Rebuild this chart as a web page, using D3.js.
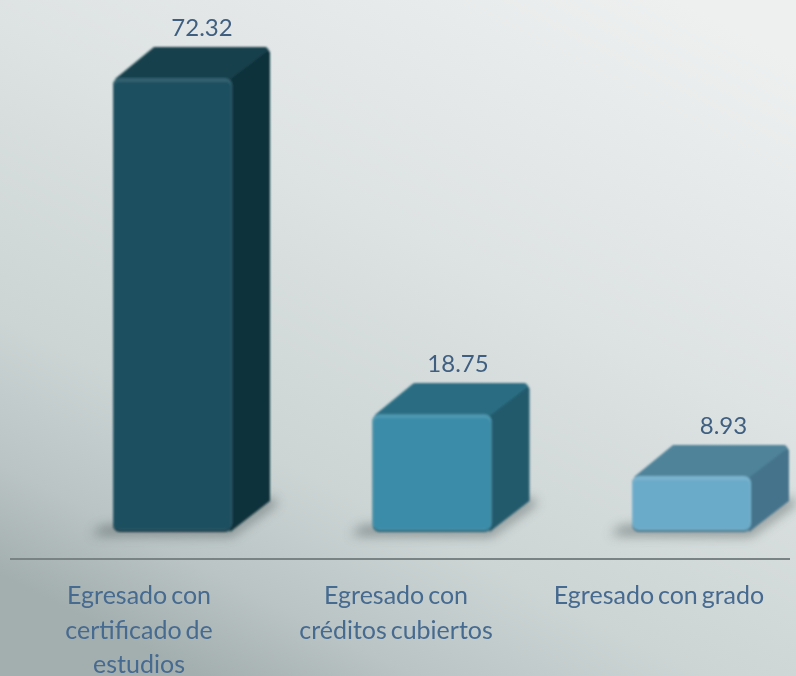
<!DOCTYPE html>
<html><head><meta charset="utf-8">
<script src="https://cdn.jsdelivr.net/npm/d3@7"></script>
<style>html,body{margin:0;padding:0;background:#d5dad9}svg{display:block}</style>
</head><body><div id="c"></div>
<script>
const categories = ["Egresado con certificado de estudios","Egresado con créditos cubiertos","Egresado con grado"];
const categoryLines = [["Egresado con","certificado de","estudios"],["Egresado con","créditos cubiertos"],["Egresado con grado"]];
const values = [72.32,18.75,8.93];
const valueLabels = ["72.32","18.75","8.93"];
const frontColors = ["#1c4f60","#3a8ca8","#6aabc9"];
const topColors = ["#17404c","#2a6d82","#4f8399"];
const sideColors = ["#10323a","#245a6c","#44738b"];
const W=796,H=676;
const svg=d3.select("#c").append("svg").attr("width",W).attr("height",H);
const defs=svg.append("defs");
const bg=defs.append("linearGradient").attr("id","bg").attr("x1","0.85").attr("y1","0").attr("x2","0.25").attr("y2","1");
[[0,"#eef0f0"],[0.4,"#dde2e2"],[0.72,"#ccd4d4"],[0.88,"#bac4c4"],[1,"#a3aeae"]].forEach(s=>bg.append("stop").attr("offset",s[0]).attr("stop-color",s[1]));
defs.append("filter").attr("id","soft").attr("x","-10%").attr("y","-10%").attr("width","120%").attr("height","120%").append("feGaussianBlur").attr("stdDeviation",1);
defs.append("filter").attr("id","txt").attr("x","-5%").attr("y","-5%").attr("width","110%").attr("height","110%").append("feGaussianBlur").attr("stdDeviation",0.55);
defs.append("filter").attr("id","shadow").attr("x","-30%").attr("y","-200%").attr("width","160%").attr("height","500%").append("feGaussianBlur").attr("stdDeviation",6);
svg.append("rect").attr("width",W).attr("height",H).attr("fill","url(#bg)");

const x=d3.scalePoint().domain(categories).range([172.5,691.5]);
const y=d3.scaleLinear().domain([0,72.32]).range([532,78]);
const bw=119,dx=38,dy=31;
const valueOffset=[29.5,26,32];

const g=svg.selectAll("g.bar").data(categories).join("g").attr("class","bar");
g.each(function(c,i){
  const s=d3.select(this),l=x(c)-bw/2,r=l+bw,t=y(values[i]),b=y(0);
  const line=d3.line();
  s.append("path").attr("d",line([[l-22,b+3],[r,b+4],[r+dx+8,b-dy+2],[r+dx,b-dy-4],[r,b-6],[l-10,b-6]])+"Z")
    .attr("fill","#4f5a5a").attr("opacity",.6).attr("filter","url(#shadow)");
  const soft=s.append("g").attr("filter","url(#soft)");
  soft.append("path").attr("d",line([[l+3,t+1],[l+dx+5,t-dy],[r+dx-5,t-dy],[r+dx,t-dy+5],[r+dx,b-dy],[r-2,b],[r-4,t+2]])+"Z").attr("fill",sideColors[i]);
  soft.append("path").attr("d",line([[l+2,t+1],[l+dx+3,t-dy],[r+dx-4,t-dy],[r+dx-1,t-dy+3],[r-1,t+1]])+"Z").attr("fill",topColors[i]);
  const hi=d3.interpolateRgb(frontColors[i],"#ffffff");
  const lo=d3.interpolateRgb(frontColors[i],"#000000");
  soft.append("rect").attr("x",l).attr("y",t).attr("width",bw).attr("height",b-t).attr("rx",7).attr("fill",lo(.3));
  soft.append("rect").attr("x",l).attr("y",t).attr("width",bw).attr("height",b-t-2).attr("rx",7).attr("fill",hi(.1));
  soft.append("rect").attr("x",l+1).attr("y",t+4).attr("width",bw-2).attr("height",b-t-7).attr("rx",5).attr("fill",frontColors[i]);
  svg.append("text").attr("x",x(c)+valueOffset[i]).attr("y",t-dy-11).attr("text-anchor","middle")
    .attr("font-family","Lato").attr("font-size",24).attr("fill","#3f5f80").attr("filter","url(#txt)").text(valueLabels[i]);
});
const axisY=559;
svg.append("rect").attr("x",10).attr("width",780).attr("y",axisY-1).attr("height",2).attr("fill","#7a8383");
const labelX=[139,396,659];
categories.forEach((c,i)=>{
  categoryLines[i].forEach((t,j)=>{
    svg.append("text").attr("x",labelX[i]).attr("y",604+j*34.5).attr("text-anchor","middle")
      .attr("font-family","Lato").attr("font-size",25).attr("word-spacing",-2.5).attr("fill","#466a90").attr("filter","url(#txt)").text(t);
  });
});
</script></body></html>
